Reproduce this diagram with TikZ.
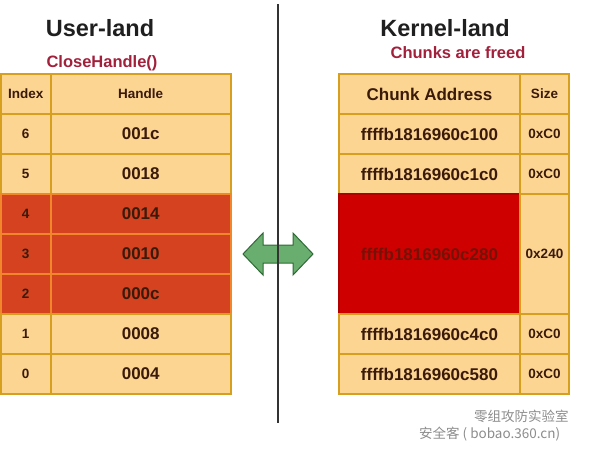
\documentclass[tikz,border=0pt]{standalone}
\usepackage{fontspec}
\setmainfont{Liberation Sans}
\newfontfamily\cjkfont{Noto Sans CJK SC}
\definecolor{cellfill}{HTML}{FCD593}
\definecolor{cellline}{HTML}{D69F1E}
\definecolor{hotfill}{HTML}{D4421F}
\definecolor{hotline}{HTML}{F2862A}
\definecolor{freedfill}{HTML}{CF0000}
\definecolor{celltext}{HTML}{3A1A0A}
\definecolor{notetext}{HTML}{A1203C}
\definecolor{arrowfill}{HTML}{69AD6F}
\definecolor{arrowline}{HTML}{2F6A36}
\begin{document}
\begin{tikzpicture}[x=1pt,y=-1pt,
  cell/.style={draw=cellline, fill=cellfill, line width=1.5pt, inner sep=0pt,
    text=celltext, font=\bfseries\fontsize{17}{19}\selectfont, anchor=center},
  smallcell/.style={cell, font=\bfseries\fontsize{13.5}{15}\selectfont},
  hotcell/.style={draw=hotline, fill=hotfill},
  freedcell/.style={draw=freedfill!85!black, fill=freedfill, text=celltext!70!red},
  title/.style={font=\bfseries\fontsize{23.5}{26}\selectfont, text=black!88},
  note/.style={font=\bfseries\fontsize{16.5}{18}\selectfont, text=notetext},
  wmtext/.style={font=\cjkfont\fontsize{13.5}{15}\selectfont, text=black!45, inner sep=0pt}
]
\useasboundingbox (0,0) rectangle (590,448);

% titles
\node[title] (ul) at (100,28) {User-land};
\node[title] (kl) at (445,28) {Kernel-land};
\node[note] (ch) at (102,63) {CloseHandle()};
\node[note] (cf) at (458,53) {Chunks are freed};

% left table
\node[smallcell, minimum width=50, minimum height=40] (ih) at (25.75,94) {Index};
\node[smallcell, minimum width=180, minimum height=40] (hh) at (140.75,94) {Handle};
\node[smallcell, minimum width=50, minimum height=40] (i6) at (25.75,134) {6};
\node[cell, minimum width=180, minimum height=40] (h6) at (140.75,134) {001c};
\node[smallcell, minimum width=50, minimum height=40] (i5) at (25.75,174) {5};
\node[cell, minimum width=180, minimum height=40] (h5) at (140.75,174) {0018};
\node[smallcell, hotcell, minimum width=50, minimum height=40] (i4) at (25.75,214) {4};
\node[cell, hotcell, minimum width=180, minimum height=40] (h4) at (140.75,214) {0014};
\node[smallcell, hotcell, minimum width=50, minimum height=40] (i3) at (25.75,254) {3};
\node[cell, hotcell, minimum width=180, minimum height=40] (h3) at (140.75,254) {0010};
\node[smallcell, hotcell, minimum width=50, minimum height=40] (i2) at (25.75,294) {2};
\node[cell, hotcell, minimum width=180, minimum height=40] (h2) at (140.75,294) {000c};
\node[smallcell, minimum width=50, minimum height=40] (i1) at (25.75,334) {1};
\node[cell, minimum width=180, minimum height=40] (h1) at (140.75,334) {0008};
\node[smallcell, minimum width=50, minimum height=40] (i0) at (25.75,374) {0};
\node[cell, minimum width=180, minimum height=40] (h0) at (140.75,374) {0004};

% right table
\node[cell, minimum width=181, minimum height=40] (ah) at (429.5,94) {Chunk Address};
\node[smallcell, minimum width=49, minimum height=40] (sh) at (544.5,94) {Size};
\node[cell, minimum width=181, minimum height=40] (a1) at (429.5,134) {ffffb1816960c100};
\node[smallcell, minimum width=49, minimum height=40] (s1) at (544.5,134) {0xC0};
\node[cell, minimum width=181, minimum height=40] (a2) at (429.5,174) {ffffb1816960c1c0};
\node[smallcell, minimum width=49, minimum height=40] (s2) at (544.5,174) {0xC0};
\node[cell, freedcell, minimum width=181, minimum height=120] (a3) at (429.5,254) {ffffb1816960c280};
\node[smallcell, minimum width=49, minimum height=120] (s3) at (544.5,254) {0x240};
\node[cell, minimum width=181, minimum height=40] (a4) at (429.5,334) {ffffb1816960c4c0};
\node[smallcell, minimum width=49, minimum height=40] (s4) at (544.5,334) {0xC0};
\node[cell, minimum width=181, minimum height=40] (a5) at (429.5,374) {ffffb1816960c580};
\node[smallcell, minimum width=49, minimum height=40] (s5) at (544.5,374) {0xC0};

% double arrow
\draw[fill=arrowfill, draw=arrowline, line width=1pt, line join=miter]
  (243,254) -- (263,233) -- (263,245) -- (293,245) -- (293,233) -- (313,254)
  -- (293,275) -- (293,263) -- (263,263) -- (263,275) -- cycle;

% separator
\coordinate (sepT) at (278,4);
\coordinate (sepB) at (278,423);
\draw[line width=2pt, black!80] (sepT) -- (sepB);

% watermark
\node[wmtext, anchor=west] (wm1) at (474,416) {零组攻防实验室};
\node[wmtext, anchor=west] (wm2) at (419,434) {安全客 ( bobao.360.cn)};
\end{tikzpicture}
\end{document}
